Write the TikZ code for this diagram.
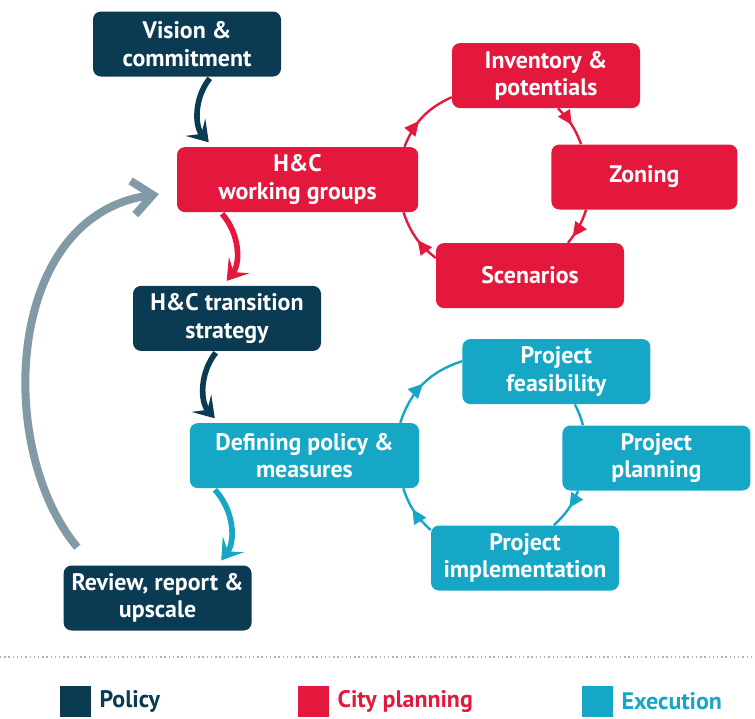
\documentclass[tikz,border=0pt]{standalone}
\usepackage{fontspec}
\setmainfont{PT Sans}
\usetikzlibrary{positioning}
\usetikzlibrary{arrows.meta}
\usetikzlibrary{decorations.markings}
\definecolor{policynavy}{HTML}{0B3A53}
\definecolor{cityred}{HTML}{E3183C}
\definecolor{execteal}{HTML}{16A6C6}
\definecolor{loopgray}{HTML}{8299A6}

\begin{document}
\begin{tikzpicture}[
    box/.style={rectangle, rounded corners=0.2cm, minimum width=4.7cm, minimum height=1.625cm,
      text=white, align=center, inner sep=2pt, font=\bfseries\fontsize{17}{19.5}\selectfont},
    policy/.style={box, fill=policynavy},
    cityplan/.style={box, fill=cityred},
    execution/.style={box, fill=execteal},
    flowarrow/.style={line width=4pt, -{Stealth[length=5mm,width=6.5mm,inset=2.2mm]},
      shorten <=0.5mm, shorten >=1.5mm},
    looparrow/.style={line width=1.7pt, postaction={decorate},
      decoration={markings, mark=at position #1 with {\arrow{Triangle[length=3.6mm,width=3.4mm]}}}},
    legsq/.style={rectangle, minimum size=0.775cm, inner sep=0pt},
    legtext/.style={font=\bfseries\fontsize{17}{19}\selectfont, inner sep=0pt}
  ]
  \useasboundingbox (0,0) rectangle (18.875,-17.95);

  % Policy chain
  \node[policy] (vision) at (4.675,-1.1) {Vision \&\\commitment};
  \node[cityplan, minimum width=6.03cm] (groups) at (7.44,-4.49) {H\&C\\working groups};
  \node[policy] (strategy) at (5.675,-7.96) {H\&C transition\\strategy};
  \node[execution, minimum width=5.73cm] (measures) at (7.61,-11.39) {Defining policy \&\\measures};
  \node[policy] (review) at (3.94,-14.95) {Review, report \&\\upscale};

  % City planning loop
  \node[cityplan] (inventory) at (13.65,-1.89) {Inventory \&\\potentials};
  \node[cityplan, minimum width=4.65cm] (zoning) at (16.11,-4.425) {Zoning};
  \node[cityplan] (scenarios) at (13.25,-6.89) {Scenarios};

  % Execution loop
  \node[execution] (feasibility) at (13.91,-9.29) {Project\\feasibility};
  \node[execution] (planning) at (16.41,-11.45) {Project\\planning};
  \node[execution] (implement) at (13.125,-13.95) {Project\\implementation};

  \draw[flowarrow, policynavy] ([xshift=0.6cm]vision.south) to[bend right=40] ([xshift=0.9cm]groups.north west);
  \draw[flowarrow, cityred] ([xshift=1.1cm]groups.south west) to[bend left=40] ([xshift=-0.1cm]strategy.north);
  \draw[flowarrow, policynavy] ([xshift=-0.25cm]strategy.south) to[bend right=40] ([xshift=0.73cm]measures.north west);
  \draw[flowarrow, execteal] ([xshift=0.6cm]measures.south west) to[bend left=40] ([xshift=1.5cm]review.north);

  % feedback
  \draw[loopgray, line width=5.7pt, -{Straight Barb[length=5mm,width=8.5mm]}, shorten >=0.45cm]
    ([xshift=0.35cm, yshift=0.45cm]review.north west) .. controls +(130:3.2) and +(188:4.35) .. ([yshift=-0.3cm]groups.west);

  \draw[looparrow=0.42, cityred] ([xshift=-0.35cm]groups.north east) to[bend left=22] ([yshift=-0.54cm]inventory.west);
  \draw[looparrow=0.5, cityred] ([xshift=0.3cm]inventory.south) to[bend left=12] ([xshift=0.75cm]zoning.north west);
  \draw[looparrow=0.8, cityred] ([xshift=0.875cm]zoning.south west) to[bend left=10] ([xshift=0.95cm]scenarios.north);
  \draw[looparrow=0.45, cityred] ([yshift=0.44cm]scenarios.west) to[bend left=16] ([xshift=-0.375cm]groups.south east);

  \draw[looparrow=0.5, execteal] ([xshift=-0.475cm]measures.north east) to[bend left=27] ([yshift=0.26cm]feasibility.west);
  \draw[execteal, line width=1.7pt] ([xshift=0.46cm]feasibility.south) to[bend left=6] ([xshift=0.52cm]planning.north west);
  \draw[looparrow=0.45, execteal] ([xshift=0.4cm]planning.south west) to[bend left=12] ([xshift=0.72cm]implement.north);
  \draw[looparrow=0.55, execteal] ([yshift=0.7cm]implement.west) to[bend left=14.5] ([xshift=-0.4cm]measures.south east);

  % Legend
  \draw[gray!60, line width=1pt, dotted] (0,-16.425) -- (18.875,-16.425);
  \node[legsq, fill=policynavy] (keypolicy) at (1.89,-17.54) {};
  \node[legtext, text=policynavy, right=0.2cm of keypolicy] (policytext) {Policy};
  \node[legsq, fill=cityred] (keycity) at (7.84,-17.54) {};
  \node[legtext, text=cityred, right=0.2cm of keycity] (citytext) {City planning};
  \node[legsq, fill=execteal] (keyexec) at (14.94,-17.54) {};
  \node[legtext, text=execteal, right=0.2cm of keyexec] (exectext) {Execution};
\end{tikzpicture}
\end{document}
